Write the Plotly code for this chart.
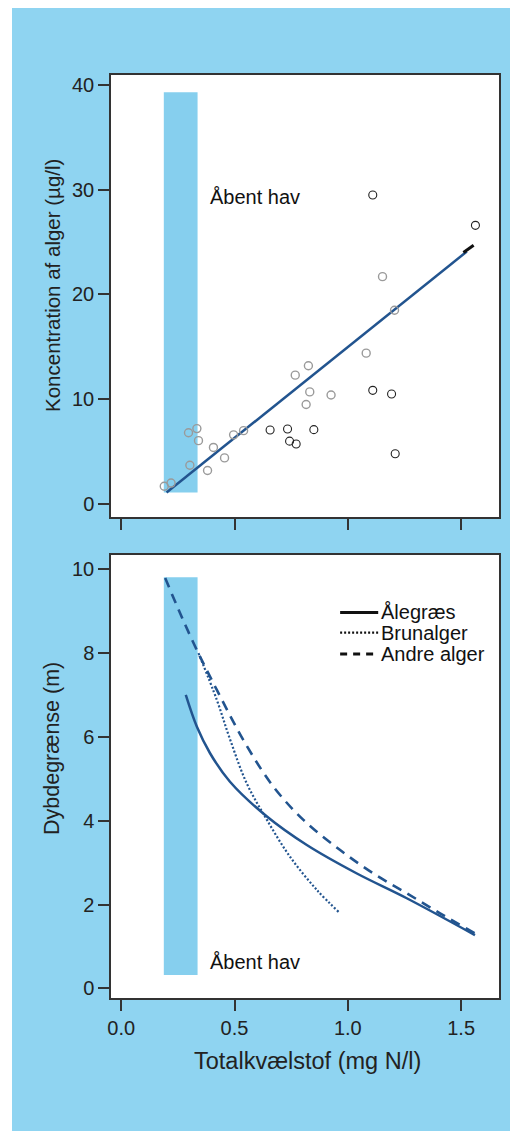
import plotly.graph_objects as go
from plotly.subplots import make_subplots

# ---------------- data ----------------
# top panel: scatter points (Totalkvælstof, Koncentration af alger)
tn_light = [0.19, 0.22, 0.297, 0.334, 0.341, 0.303, 0.381, 0.407, 0.456, 0.496, 0.54,
            0.768, 0.826, 0.832, 0.816, 0.926, 1.081, 1.153, 1.206]
chl_light = [1.7, 2.0, 6.8, 7.2, 6.05, 3.7, 3.2, 5.4, 4.4, 6.6, 7.0,
             12.3, 13.2, 10.7, 9.5, 10.4, 14.4, 21.7, 18.5]
tn_dark = [0.657, 0.734, 0.743, 0.772, 0.85, 1.11, 1.193, 1.209, 1.11, 1.563]
chl_dark = [7.06, 7.16, 6.0, 5.73, 7.1, 10.85, 10.5, 4.8, 29.5, 26.6]

# regression line (endpoints)
fit_x = [0.20, 1.525]
fit_y = [1.1, 24.1]
fit_tip_x = [1.51, 1.555]
fit_tip_y = [24.0, 24.7]

# bottom panel: depth limit curves
alegraes_x = [0.285, 0.334, 0.392, 0.48, 0.643, 0.819, 1.04, 1.26, 1.561]
alegraes_y = [7.0, 6.24, 5.61, 4.93, 4.10, 3.42, 2.74, 2.15, 1.27]

brunalger_x = [0.341, 0.422, 0.481, 0.554, 0.643, 0.745, 0.863, 0.966]
brunalger_y = [8.0, 6.88, 5.93, 4.89, 4.02, 3.14, 2.35, 1.79]

andre_x = [0.194, 0.26, 0.334, 0.422, 0.547, 0.672, 0.804, 0.966, 1.113, 1.26, 1.407, 1.561]
andre_y = [9.79, 8.95, 8.07, 7.12, 5.85, 4.81, 4.02, 3.30, 2.74, 2.27, 1.79, 1.31]

# open-sea band (x range) and its vertical extent in each panel
band_x = [0.188, 0.337]
band_top_y = [1.1, 39.3]
band_bottom_y = [0.32, 9.81]

legend_labels = ["Ålegræs", "Brunalger", "Andre alger"]
x_ticks = [0.0, 0.5, 1.0, 1.5]
x_ticklabels = ["0.0", "0.5", "1.0", "1.5"]
top_y_ticks = [0, 10, 20, 30, 40]
bottom_y_ticks = [0, 2, 4, 6, 8, 10]

# ---------------- style ----------------
BG_BLUE = "#8fd4f1"
BAND_BLUE = "#86cfee"
CURVE_BLUE = "#22548f"
FONT = "Liberation Sans, Arial, Helvetica, sans-serif"
TXT = "#222222"

W, H = 518, 1131
ML, MR, MT, MB = 103, 27, 67, 141
pw = W - ML - MR
ph = H - MT - MB


def px_x(px):
    return (px - ML) / pw


def px_y(py):
    return (H - MB - py) / ph


fig = make_subplots(rows=2, cols=1, shared_xaxes=False, vertical_spacing=0.0411)

# top scatter
fig.add_trace(go.Scatter(x=fit_x, y=fit_y, mode="lines",
                         line=dict(color=CURVE_BLUE, width=2.5), showlegend=False), row=1, col=1)
fig.add_trace(go.Scatter(x=fit_tip_x, y=fit_tip_y, mode="lines",
                         line=dict(color="#111111", width=3), showlegend=False), row=1, col=1)
fig.add_trace(go.Scatter(x=tn_light, y=chl_light, mode="markers",
                         marker=dict(symbol="circle-open", size=8, color="#9a9a9a",
                                     line=dict(width=1.4, color="#9a9a9a")),
                         showlegend=False), row=1, col=1)
fig.add_trace(go.Scatter(x=tn_dark, y=chl_dark, mode="markers",
                         marker=dict(symbol="circle-open", size=8, color="#222222",
                                     line=dict(width=1.1, color="#222222")),
                         showlegend=False), row=1, col=1)

# bottom curves
fig.add_trace(go.Scatter(x=alegraes_x, y=alegraes_y, mode="lines", name=legend_labels[0],
                         line=dict(color=CURVE_BLUE, width=2.5, shape="spline"),
                         showlegend=False), row=2, col=1)
fig.add_trace(go.Scatter(x=brunalger_x, y=brunalger_y, mode="lines", name=legend_labels[1],
                         line=dict(color=CURVE_BLUE, width=2.2, dash="2px,2px", shape="spline"),
                         showlegend=False), row=2, col=1)
fig.add_trace(go.Scatter(x=andre_x, y=andre_y, mode="lines", name=legend_labels[2],
                         line=dict(color=CURVE_BLUE, width=2.6, dash="10px,7px", shape="spline"),
                         showlegend=False), row=2, col=1)

# bands
fig.add_shape(type="rect", xref="x", yref="y", x0=band_x[0], x1=band_x[1],
              y0=band_top_y[0], y1=band_top_y[1], fillcolor=BAND_BLUE, line_width=0, layer="below")
fig.add_shape(type="rect", xref="x2", yref="y2", x0=band_x[0], x1=band_x[1],
              y0=band_bottom_y[0], y1=band_bottom_y[1], fillcolor=BAND_BLUE, line_width=0, layer="below")

# thin white page edge at left
fig.add_shape(type="rect", xref="paper", yref="paper", x0=px_x(0), x1=px_x(4),
              y0=px_y(H), y1=px_y(0), fillcolor="white", line_width=0, layer="above")

# Åbent hav labels
fig.add_annotation(x=0.381, y=29.3, xref="x", yref="y", text="Åbent hav", showarrow=False,
                   xanchor="left", yanchor="middle", font=dict(size=20, color="#111111", family=FONT))
fig.add_annotation(x=0.385, y=0.63, xref="x2", yref="y2", text="Åbent hav", showarrow=False,
                   xanchor="left", yanchor="middle", font=dict(size=20, color="#111111", family=FONT))

# legend (manual)
leg_rows = [8.97, 8.49, 7.98]
leg_dash_spec = ["solid", "2px,2px", "7px,6px"]
leg_w = [3, 2.2, 3]
for lab, yy, dsh, lw in zip(legend_labels, leg_rows, leg_dash_spec, leg_w):
    fig.add_shape(type="line", xref="x2", yref="y2", x0=0.966, x1=1.134, y0=yy, y1=yy,
                  line=dict(color="#111111", width=lw, dash=dsh))
    fig.add_annotation(x=1.137, y=yy, xref="x2", yref="y2", text=lab, showarrow=False,
                       xanchor="left", yanchor="middle",
                       font=dict(size=20, color="#111111", family=FONT))

# axis titles
fig.add_annotation(x=px_x(44), y=px_y(278), xref="paper", yref="paper",
                   text="Koncentration af alger (µg/l)", textangle=-90, showarrow=False,
                   xanchor="center", yanchor="middle", font=dict(size=20.5, color=TXT, family=FONT))
fig.add_annotation(x=px_x(44), y=px_y(741), xref="paper", yref="paper",
                   text="Dybdegrænse (m)", textangle=-90, showarrow=False,
                   xanchor="center", yanchor="middle", font=dict(size=21.5, color=TXT, family=FONT))
fig.add_annotation(x=px_x(299), y=px_y(1053), xref="paper", yref="paper",
                   text="Totalkvælstof (mg N/l)", showarrow=False,
                   xanchor="center", yanchor="middle", font=dict(size=23.5, color=TXT, family=FONT))

axis_common = dict(showline=True, mirror=True, linecolor="#333333", linewidth=1.5,
                   ticks="outside", ticklen=11, tickwidth=1.5, tickcolor="#333333",
                   showgrid=False, zeroline=False,
                   tickfont=dict(size=20, color=TXT, family=FONT))

fig.update_xaxes(range=[-0.045, 1.667], tickvals=x_ticks, ticktext=x_ticklabels, **axis_common)
fig.update_xaxes(showticklabels=False, row=1, col=1)
fig.update_yaxes(**axis_common)
fig.update_yaxes(range=[-1.24, 40.95], tickvals=top_y_ticks, row=1, col=1)
fig.update_yaxes(range=[-0.23, 10.34], tickvals=bottom_y_ticks, row=2, col=1)

fig.update_layout(
    width=W, height=H,
    margin=dict(l=ML, r=MR, t=MT, b=MB),
    paper_bgcolor=BG_BLUE, plot_bgcolor="white",
    font=dict(family=FONT, color=TXT),
    showlegend=False,
)
fig.layout.yaxis.domain = [px_y(509), 1.0]
fig.layout.yaxis2.domain = [0.0, px_y(547)]

fig.write_html("out.html")
